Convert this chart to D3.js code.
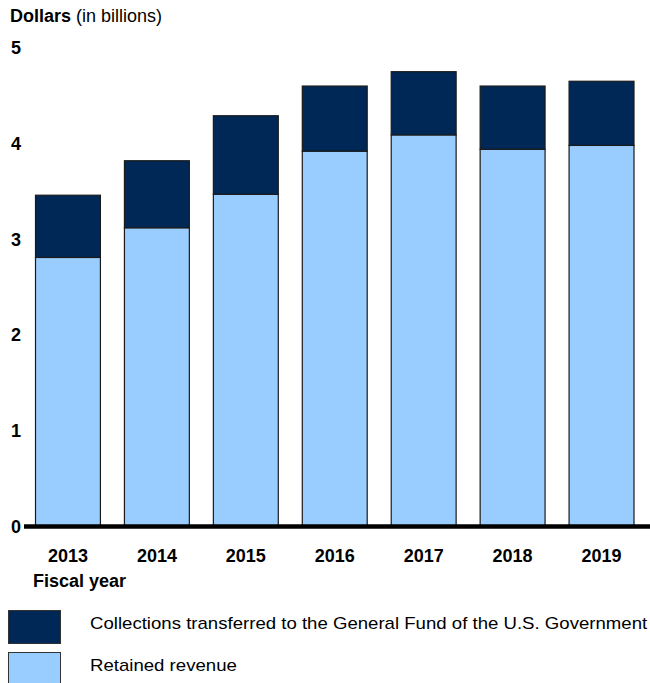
<!DOCTYPE html>
<html>
<head>
<meta charset="utf-8">
<script src="https://cdn.jsdelivr.net/npm/d3@7"></script>
<style>
  body { margin: 0; background: #fff; }
  svg { display: block; font-family: "Liberation Sans", Arial, sans-serif; }
</style>
</head>
<body>
<svg id="chart"></svg>
<script>
// fiscal years and the two stacked series (billions of dollars)
const years = ['2013', '2014', '2015', '2016', '2017', '2018', '2019'];
const retained = [2.81, 3.12, 3.47, 3.92, 4.09, 3.94, 3.98];
const transferred = [0.65, 0.70, 0.82, 0.68, 0.66, 0.66, 0.67];
const yTicks = [0, 1, 2, 3, 4, 5];
const seriesNames = ['Collections transferred to the General Fund of the U.S. Government', 'Retained revenue'];
const seriesColors = ['#002856', '#99ccff'];

const width = 650, height = 683;
const svg = d3.select('#chart').attr('width', width).attr('height', height);

const x = d3.scaleBand()
  .domain(years)
  .range([23.5, 646])
  .paddingInner(0.27)
  .paddingOuter(0.135);

const y = d3.scaleLinear()
  .domain([0, 5])
  .range([526.5, 47.75]);

// title
svg.append('text')
  .attr('x', 10).attr('y', 22)
  .style('font-size', '18px')
  .call(t => {
    t.append('tspan').attr('font-weight', 'bold').text('Dollars');
    t.append('tspan').text(' (in billions)');
  });

// stacked bars
const rows = years.map((yr, i) => ({ year: yr, retained: retained[i], transferred: transferred[i] }));
const stack = d3.stack().keys(['retained', 'transferred'])(rows);
const colorFor = { retained: seriesColors[1], transferred: seriesColors[0] };

svg.append('g').selectAll('g')
  .data(stack)
  .join('g')
  .attr('fill', d => colorFor[d.key])
  .selectAll('rect')
  .data(d => d)
  .join('rect')
  .attr('x', d => x(d.data.year))
  .attr('y', d => y(d[1]))
  .attr('width', x.bandwidth())
  .attr('height', d => y(d[0]) - y(d[1]))
  .attr('stroke', '#1a1a1a')
  .attr('stroke-width', 1.2);

// y axis labels only
const yAxis = svg.append('g')
  .attr('transform', 'translate(21,0)')
  .call(d3.axisLeft(y).tickValues(yTicks).tickSize(0).tickPadding(0).tickFormat(d3.format('d')));
yAxis.select('.domain').remove();
yAxis.selectAll('text')
  .attr('font-family', null)
  .style('font-size', '18px')
  .style('font-weight', 'bold')
  .attr('fill', '#000');

// baseline
svg.append('line')
  .attr('x1', 24).attr('x2', 650)
  .attr('y1', y(0)).attr('y2', y(0))
  .attr('stroke', '#000')
  .attr('stroke-width', 4.5);

// x axis labels
const xAxis = svg.append('g')
  .attr('transform', 'translate(0,548)')
  .call(d3.axisBottom(x).tickSize(0).tickPadding(0));
xAxis.select('.domain').remove();
xAxis.selectAll('text')
  .attr('font-family', null)
  .attr('dy', '0.77em')
  .style('font-size', '18px')
  .style('font-weight', 'bold')
  .attr('fill', '#000');

svg.append('text')
  .attr('x', 33).attr('y', 587)
  .style('font-size', '18px')
  .style('font-weight', 'bold')
  .text('Fiscal year');

// legend (source text is slightly wide, so stretch it a bit)
const legend = svg.append('g');
seriesNames.forEach((name, i) => {
  const top = 610 + i * 42;
  legend.append('rect')
    .attr('x', 8.5).attr('y', top + 0.5)
    .attr('width', 52).attr('height', 33)
    .attr('fill', seriesColors[i])
    .attr('stroke', '#333')
    .attr('stroke-width', 1);
  const t = legend.append('text')
    .attr('x', 90).attr('y', top + 19)
    .style('font-size', '17px')
    .text(name);
  const w = t.node().getComputedTextLength();
  t.attr('textLength', w * 1.094).attr('lengthAdjust', 'spacingAndGlyphs');
});
</script>
</body>
</html>
